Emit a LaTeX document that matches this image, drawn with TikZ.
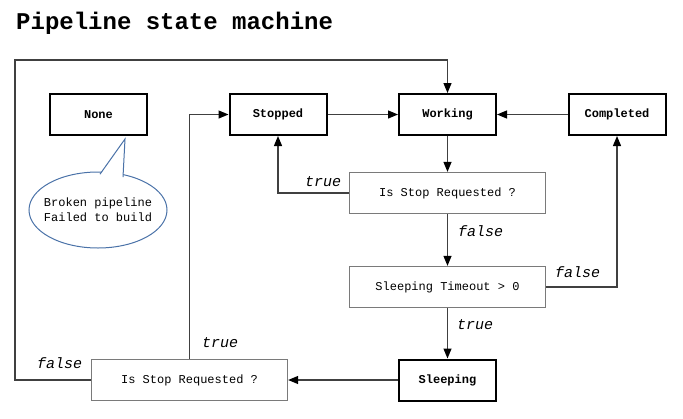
\documentclass[tikz,border=0pt]{standalone}
\usepackage{fontspec}
\setmonofont{Liberation Mono}
\usetikzlibrary{arrows.meta,shapes.geometric}
\definecolor{linegray}{HTML}{404040}
\definecolor{boxgray}{HTML}{7A7A7A}
\definecolor{calloutblue}{HTML}{4A72A8}
\tikzset{
  statebox/.style={draw=black, line width=2pt, minimum width=97pt, minimum height=41pt, inner sep=0pt, font=\fontsize{12}{14}\selectfont\ttfamily\bfseries},
  decbox/.style={draw=boxgray, line width=1.3pt, minimum width=196pt, minimum height=41pt, inner sep=0pt, font=\fontsize{12}{14}\selectfont\ttfamily},
  conn/.style={draw=linegray, line width=1.2pt},
  arr/.style={conn, -{Triangle[length=10pt,width=8pt,color=black]}},
  lbl/.style={anchor=base west, inner sep=0pt, font=\fontsize{15}{17}\selectfont\ttfamily\itshape},
}
\begin{document}
\begin{tikzpicture}[x=1pt,y=-1pt]
\useasboundingbox (0,0) rectangle (683,418);
\node[anchor=base west, inner sep=0pt, font=\fontsize{24}{28}\selectfont\ttfamily\bfseries] (title) at (16,29) {Pipeline state machine};

\node[statebox] (none) at (98.5,114.5) {None};
\node[statebox] (stopped) at (278,114.5) {Stopped};
\node[statebox] (working) at (447.5,114.5) {Working};
\node[statebox] (completed) at (617,114.5) {Completed};
\node[decbox] (isr1) at (447.5,193) {Is Stop Requested ?};
\node[decbox] (timeout) at (447.5,287) {Sleeping Timeout > 0};
\node[statebox] (sleeping) at (447.5,380) {Sleeping};
\node[decbox] (isr2) at (189.5,380) {Is Stop Requested ?};

% callout
\draw[calloutblue, line width=1pt, fill=white] (98,210) ellipse [x radius=69, y radius=38];
\path[fill=white] (100,175) -- (125,139) -- (123,179) -- cycle;
\draw[calloutblue, line width=1pt] (100,174.2) -- (125,139) -- (123,177.2);
\node[align=center, inner sep=0pt, font=\fontsize{12}{15}\selectfont\ttfamily] (note) at (98,210) {Broken pipeline\\Failed to build};

\coordinate (loopcorner) at (15,60);
\draw[arr] (isr2.west) -| (loopcorner) -| (working.north);
\draw[arr] (isr2.north) |- (stopped.west);
\draw[arr] (stopped.east) -- (working.west);
\draw[arr] (completed.west) -- (working.east);
\draw[arr] (working.south) -- (isr1.north);
\draw[arr] (isr1.west) -| (stopped.south);
\draw[arr] (isr1.south) -- (timeout.north);
\draw[arr] (timeout.east) -| (completed.south);
\draw[arr] (timeout.south) -- (sleeping.north);
\draw[arr] (sleeping.west) -- (isr2.east);

\node[lbl] (l1) at (305,186) {true};
\node[lbl] (l2) at (458,236) {false};
\node[lbl] (l3) at (555,277) {false};
\node[lbl] (l4) at (457,329) {true};
\node[lbl] (l5) at (202,347) {true};
\node[lbl] (l6) at (37,368) {false};
\end{tikzpicture}
\end{document}
